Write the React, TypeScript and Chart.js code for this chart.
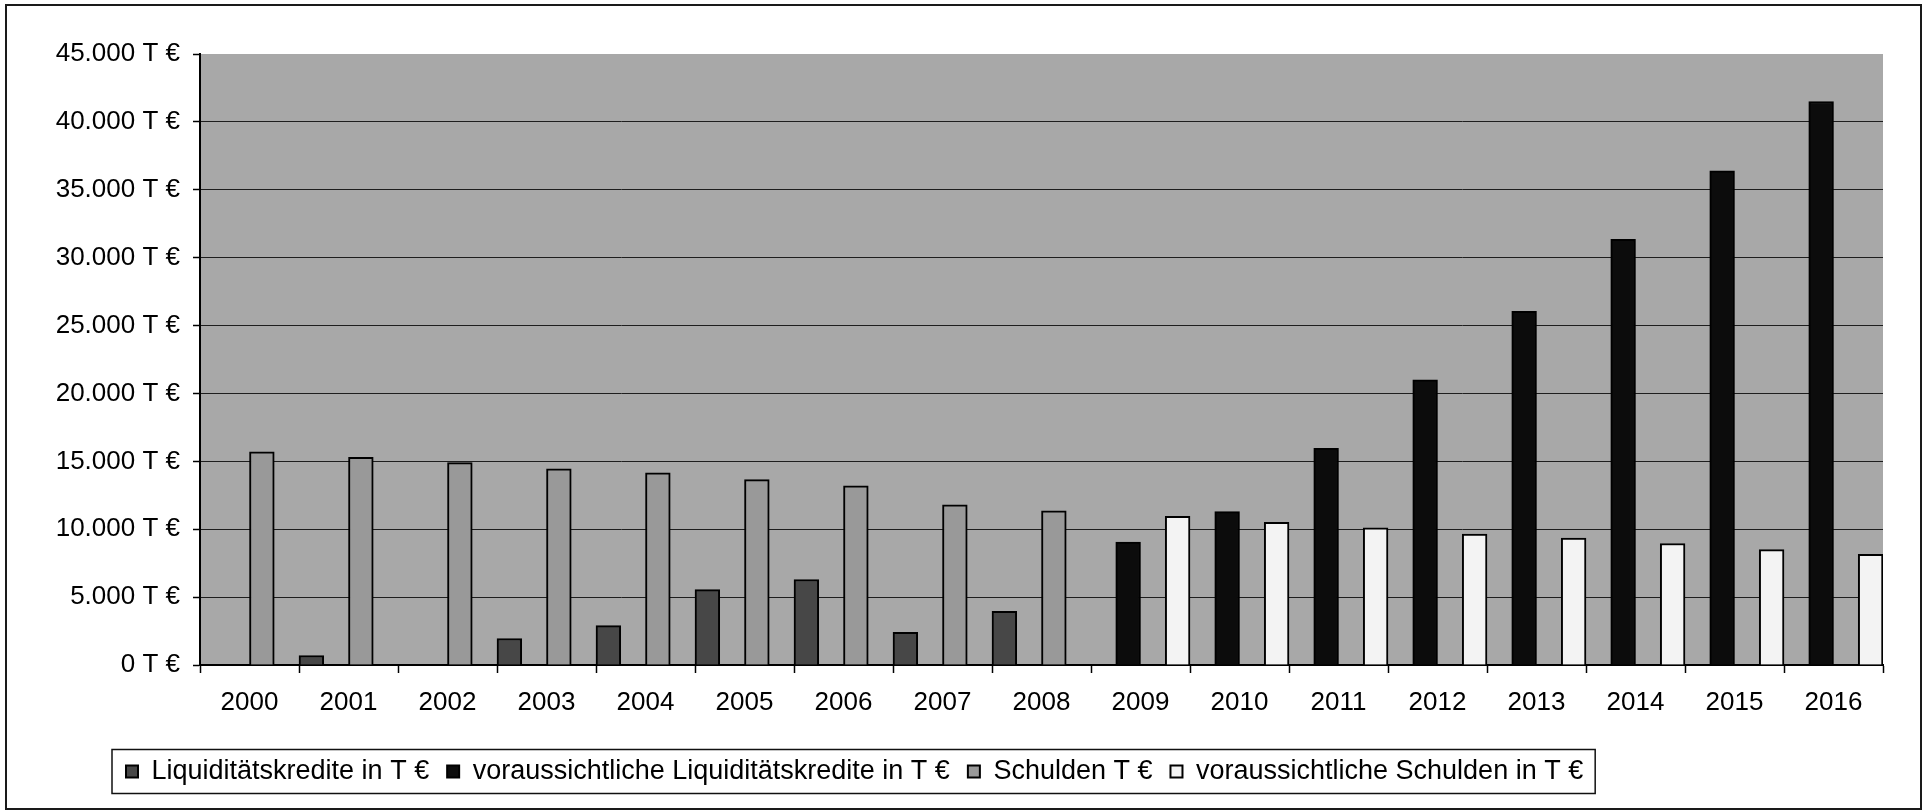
import React, { useEffect, useRef } from 'react';
import { Chart, registerables } from 'chart.js';

Chart.register(...registerables);

const years = ['2000', '2001', '2002', '2003', '2004', '2005', '2006', '2007', '2008', '2009', '2010', '2011', '2012', '2013', '2014', '2015', '2016'];

const liquiditaetskredite = [0, 700, 0, 1950, 2900, 5550, 6300, 2400, 3950, null, null, null, null, null, null, null, null];
const vorausLiquiditaetskredite = [null, null, null, null, null, null, null, null, null, 9050, 11300, 15950, 21000, 26050, 31350, 36400, 41500];
const schulden = [15700, 15300, 14900, 14450, 14150, 13650, 13200, 11800, 11350, null, null, null, null, null, null, null, null];
const vorausSchulden = [null, null, null, null, null, null, null, null, null, 10950, 10500, 10100, 9650, 9350, 8950, 8500, 8150];

const seriesNames = [
  'Liquiditätskredite in T €',
  'voraussichtliche Liquiditätskredite in T €',
  'Schulden T €',
  'voraussichtliche Schulden in T €',
];

const yTickValues = [0, 5000, 10000, 15000, 20000, 25000, 30000, 35000, 40000, 45000];
const yTickLabels = ['0 T €', '5.000 T €', '10.000 T €', '15.000 T €', '20.000 T €', '25.000 T €', '30.000 T €', '35.000 T €', '40.000 T €', '45.000 T €'];

const FONT = '"Liberation Sans", Arial, Helvetica, sans-serif';
const PLOT_BG = '#a8a8a8';
const LEGEND_LEFT = 108;

const decorations = {
  id: 'decorations',
  afterLayout(chart: any) {
    const l = chart.legend;
    if (l) {
      const shift = LEGEND_LEFT - l.left;
      l.left += shift;
      l.right += shift;
    }
  },
  beforeDraw(chart: any) {
    const { ctx, chartArea: a, width, height } = chart;
    ctx.save();
    ctx.fillStyle = '#ffffff';
    ctx.fillRect(0, 0, width, height);
    ctx.fillStyle = PLOT_BG;
    ctx.fillRect(a.left, a.top, a.right - a.left, a.bottom - a.top);
    ctx.restore();
  },
  afterDraw(chart: any) {
    const { ctx, width, height } = chart;
    ctx.save();
    ctx.strokeStyle = '#1a1a1a';
    ctx.lineWidth = 2;
    ctx.strokeRect(6, 5, width - 8, height - 7);
    const boxes = chart.legend && chart.legend.legendHitBoxes;
    if (boxes && boxes.length) {
      const first = boxes[0];
      const last = boxes[boxes.length - 1];
      const cy = first.top + first.height / 2;
      ctx.lineWidth = 1.5;
      ctx.strokeStyle = '#111';
      ctx.strokeRect(first.left - 14, cy - 22, last.left + last.width - first.left + 26, 44);
    }
    ctx.restore();
  },
};

export default function App() {
  const ref = useRef<HTMLCanvasElement>(null);

  useEffect(() => {
    if (!ref.current) return;
    const chart = new Chart(ref.current, {
      type: 'bar',
      data: {
        labels: years,
        datasets: [
          { label: seriesNames[0], data: liquiditaetskredite, backgroundColor: '#474747', borderColor: '#000', borderWidth: 2 },
          { label: seriesNames[1], data: vorausLiquiditaetskredite, backgroundColor: '#0c0c0c', borderColor: '#000', borderWidth: 2 },
          { label: seriesNames[2], data: schulden, backgroundColor: '#999999', borderColor: '#000', borderWidth: 2 },
          { label: seriesNames[3], data: vorausSchulden, backgroundColor: '#f3f3f3', borderColor: '#000', borderWidth: 2 },
        ] as any,
      },
      plugins: [decorations],
      options: {
        responsive: false,
        animation: false,
        events: [],
        datasets: { bar: { barPercentage: 1, categoryPercentage: 1, borderSkipped: 'start' } } as any,
        layout: { padding: { left: 30, right: 40, top: 54, bottom: 16 } },
        plugins: {
          legend: {
            position: 'bottom',
            align: 'start',
            labels: {
              boxWidth: 12,
              boxHeight: 12,
              padding: 18,
              color: '#000',
              font: { family: FONT, size: 27 },
            },
          },
          tooltip: { enabled: false },
          title: { display: false },
        },
        scales: {
          x: {
            offset: true,
            grid: { drawOnChartArea: false, drawTicks: true, tickLength: 8, tickColor: '#000', tickWidth: 1.5, offset: true },
            border: { display: true, color: '#000', width: 2 },
            ticks: { color: '#000', font: { family: FONT, size: 26, lineHeight: 1 }, padding: 17, maxRotation: 0, autoSkip: false },
            afterFit: (s: any) => { s.height = 75; },
          },
          y: {
            min: 0,
            max: 45000,
            ticks: {
              stepSize: 5000,
              padding: 13,
              color: '#000',
              font: { family: FONT, size: 26, lineHeight: 1 },
              callback: (value: any) => {
                const i = yTickValues.indexOf(Number(value));
                return i >= 0 ? yTickLabels[i] : '';
              },
            },
            grid: {
              color: (c: any) => (c.tick && c.tick.value === 45000 ? 'rgba(0,0,0,0)' : '#1e1e1e'),
              lineWidth: 1,
              tickLength: 7,
              tickColor: '#000',
              tickWidth: 1.5,
            },
            border: { display: true, color: '#000', width: 2 },
            afterFit: (s: any) => { s.width = 170; },
          },
        },
      } as any,
    });
    return () => chart.destroy();
  }, []);

  return (
    <div style={{ position: 'fixed', left: 0, top: 0, width: 1923, height: 811, background: '#fff' }}>
      <canvas ref={ref} width={1923} height={811} style={{ display: 'block' }} />
    </div>
  );
}
